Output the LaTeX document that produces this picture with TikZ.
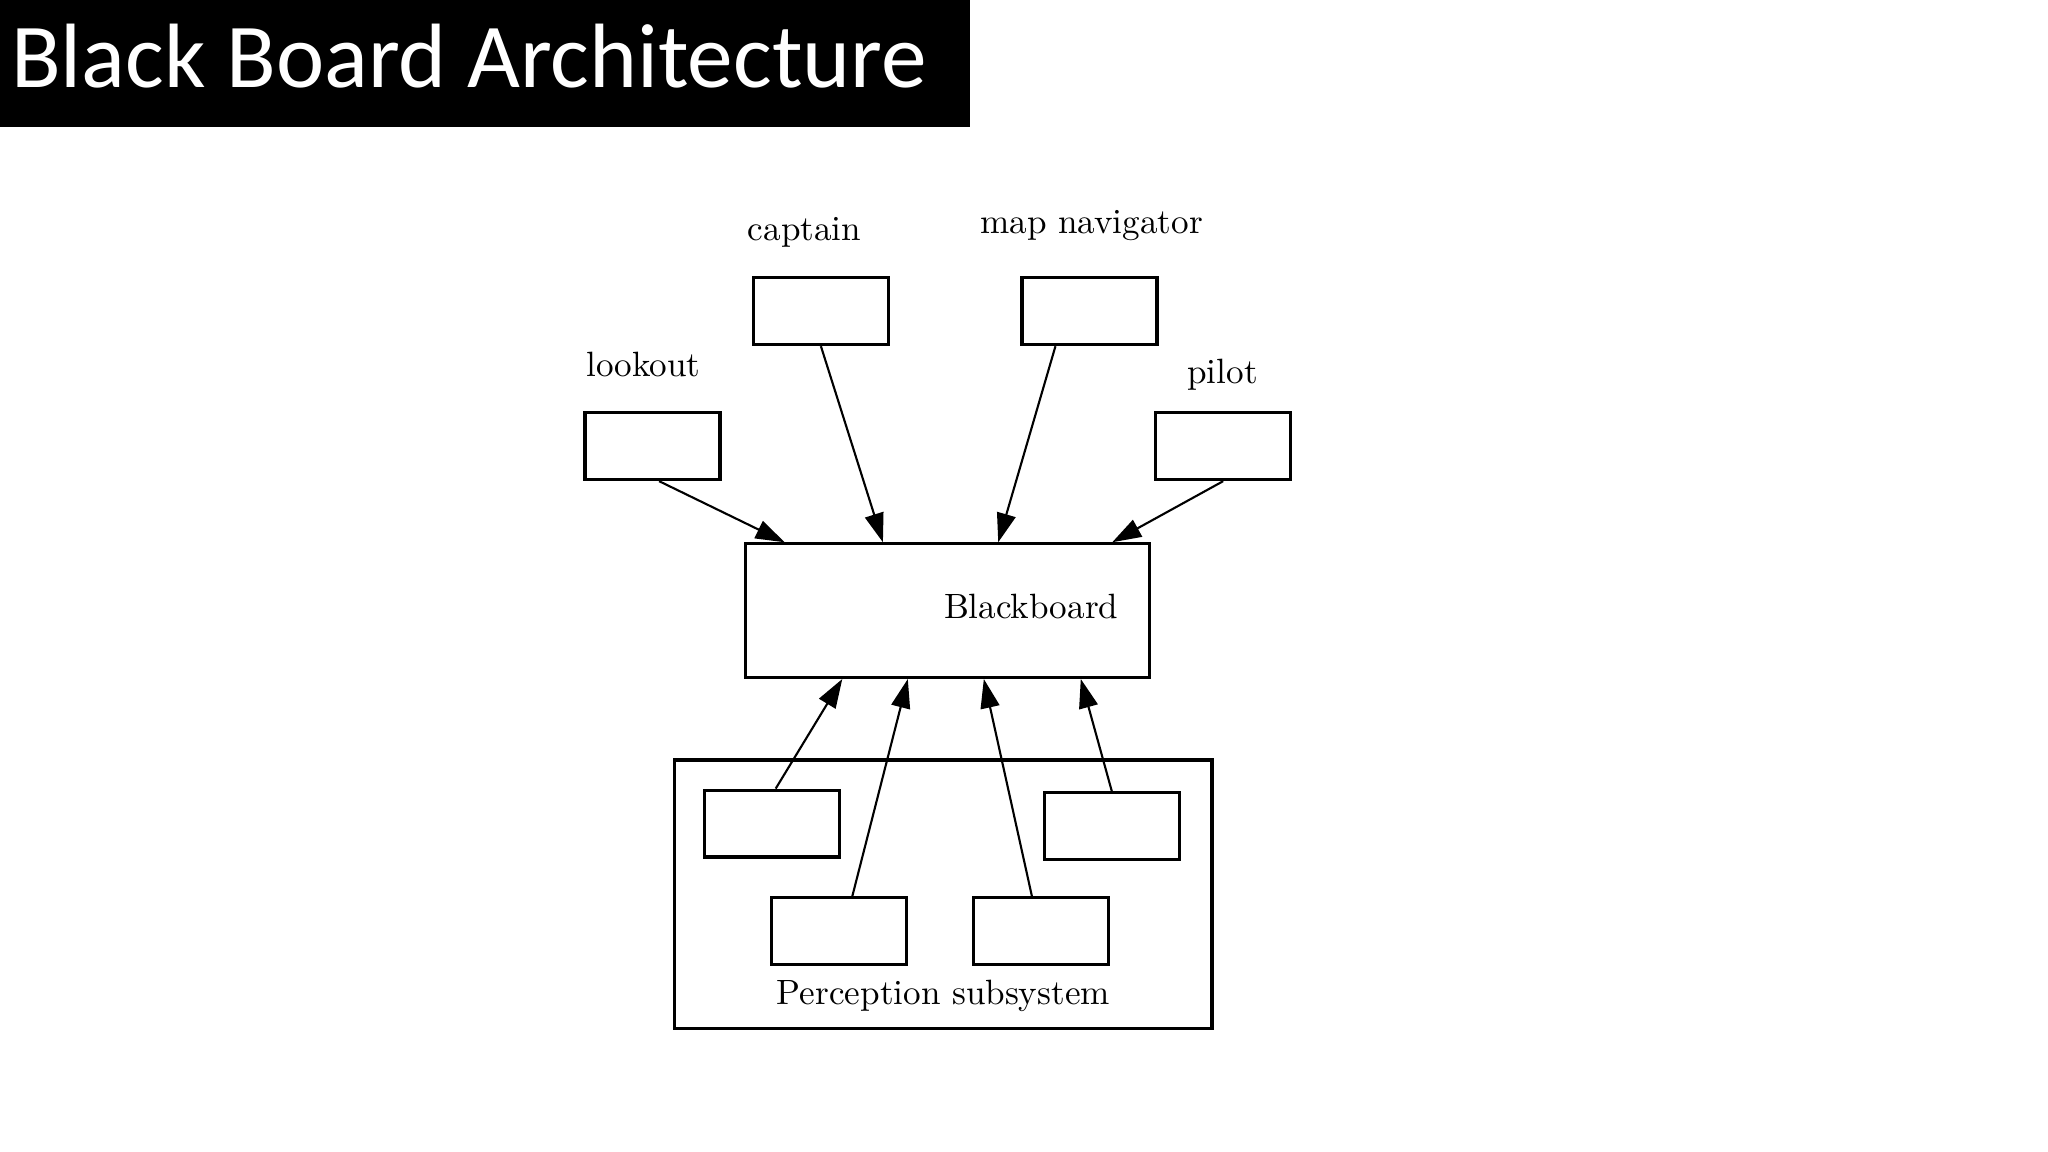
\documentclass[tikz,border=0pt]{standalone}
\usepackage{fontspec}
\newfontfamily\titlefont{Carlito}
\usetikzlibrary{calc,arrows.meta}
\tikzset{
	agent/.style={draw, line width=0.9pt, minimum width=1.35cm, minimum height=0.668cm, inner sep=0pt},
	lbl/.style={font=\fontsize{10}{12}\selectfont, inner sep=0pt},
	arr/.style={line width=0.6pt, -{Triangle[length=0.29cm, width=0.19cm]}}
}

\begin{document}
\begin{tikzpicture}[x=0.013103cm, y=-0.013103cm]
			%%%%% START %%%%%
			\useasboundingbox (0,0) rectangle (1563,879);
			
			\fill[black] (0,0) rectangle (740,97);
			\node[anchor=base west, text=white, inner sep=0pt, font=\titlefont\fontsize{26}{30}\selectfont] (title) at (8,67) {Black Board Architecture};
			
			% agents on top
			\node[agent] (captain) at (626.5,237.5) {};
			\node[lbl] (captainlbl) at (614,177) {captain};
			\node[agent] (mapnav) at (831.5,237.5) {};
			\node[lbl] (mapnavlbl) at (833,172) {map navigator};
			\node[agent] (lookout) at (498,340.5) {};
			\node[lbl] (lookoutlbl) at (491,278) {lookout};
			\node[agent] (pilot) at (933.5,340.5) {};
			\node[lbl] (pilotlbl) at (933,286) {pilot};
			
			% the blackboard
			\node[agent, minimum width=4.036cm, minimum height=1.336cm] (bb) at (723,466) {};
			\node[lbl] (bblbl) at (787,463) {Blackboard};
			
			% perception subsystem
			\node[agent, minimum width=5.372cm, minimum height=2.686cm] (percep) at (720,682.5) {};
			\node[lbl] (perceplbl) at (720,760) {Perception subsystem};
			\node[agent] (sensA) at (589,628.5) {};
			\node[agent] (sensB) at (640.5,710.5) {};
			\node[agent] (sensC) at (794.5,710.5) {};
			\node[agent] (sensD) at (848.5,630.5) {};
			
			\draw[arr] ($(lookout.south)+(5,0)$) -- ($(bb.north west)+(31,0)$);
			\draw[arr] (captain.south) -- ($(bb.north west)+(106,0)$);
			\draw[arr] ($(mapnav.south)+(-26,0)$) -- ($(bb.north west)+(194,0)$);
			\draw[arr] (pilot.south) -- ($(bb.north west)+(281,0)$);
			
			\draw[arr] ($(sensA.north)+(3,0)$) -- ($(bb.south west)+(75,0)$);
			\draw[arr] ($(sensB.north)+(10,0)$) -- ($(bb.south west)+(125,0)$);
			\draw[arr] ($(sensC.north)+(-7,0)$) -- ($(bb.south west)+(183,0)$);
			\draw[arr] (sensD.north) -- ($(bb.south west)+(257,0)$);
			
			%%%%% END %%%%%
\end{tikzpicture}
\end{document}
